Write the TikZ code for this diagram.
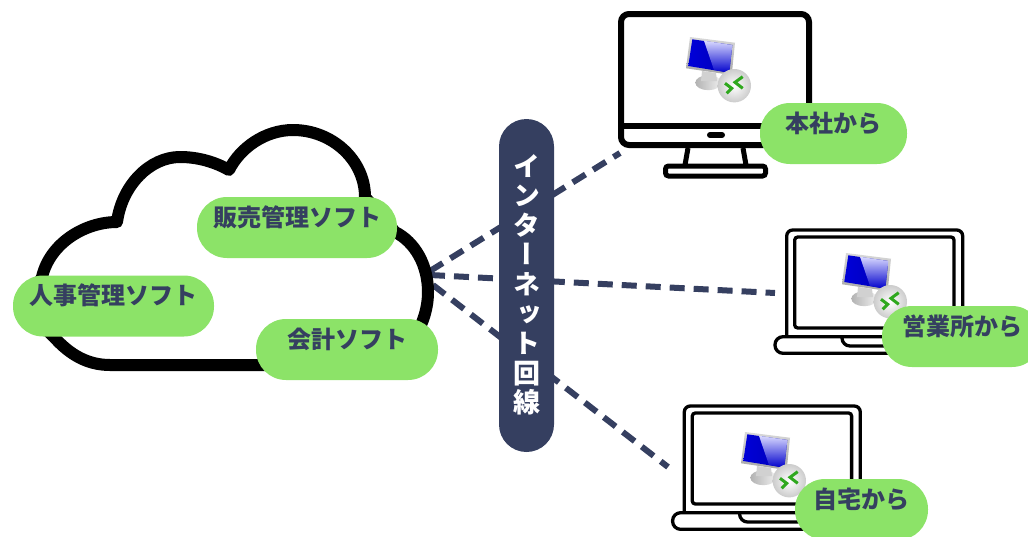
\documentclass[tikz,border=0pt]{standalone}
\usepackage{fontspec}
\newfontfamily\jpfont[RawFeature=+vert]{Noto Sans CJK JP}
\newfontfamily\jplabel{Noto Sans CJK JP}
\definecolor{softgreen}{HTML}{8CE368}
\definecolor{navy}{HTML}{353F60}
\definecolor{arrowgreen}{HTML}{2FA81E}
\tikzset{
	softpill/.style={fill=softgreen, text=navy, rounded corners=30pt, inner xsep=0pt, inner ysep=0pt,
		text height=29pt, text depth=32pt, font=\jplabel\bfseries\fontsize{24}{24}\selectfont},
	wanline/.style={draw=navy, line width=6pt, dash pattern=on 15pt off 9pt},
	rdpicon/.pic={
		\shade[left color=black!30, right color=black!6] (5.3,45.7) arc (180:360:13 and 7.5) arc (0:180:13 and 7.5);
		\fill[black!18] (12,34) -- (26,36) -- (27,44) -- (11,44) -- cycle;
		\shade[top color=black!15, bottom color=black!35] (0,0) -- (45,5.7) -- (41.7,38) -- (-4,31.3) -- cycle;
		\shade[left color=blue!85!black, right color=blue!70!black] (2.3,2.3) -- (42.3,8) -- (39.3,35.7) -- (-1.7,29) -- cycle;
		\shade[top color=blue!15, bottom color=blue!80!black] (14,3.8) -- (42.3,8) -- (39.3,35.7) -- (24,33) -- cycle;
		\shade[inner color=white, outer color=black!20] (44.3,48.7) circle (16.7);
		\draw[arrowgreen, line width=3pt] (35,46.3) -- (41.7,51.3) -- (36.7,56.3);
		\draw[arrowgreen, line width=3pt] (52.7,39.7) -- (45,45.3) -- (52.7,51.3);
	},
	laptop/.pic={
		\draw[line width=3.3pt, rounded corners=6pt] (0,107) -- (0,0) -- (176,0) -- (176,107);
		\draw[line width=3.3pt, rounded corners=3pt] (8,7) rectangle (167.3,98);
		\draw[line width=3.3pt, rounded corners=8pt] (-11.7,106.7) -- (-11.7,123.3) -- (187.7,123.3) -- (187.7,106.7) -- cycle;
		\draw[line width=3.3pt, rounded corners=8pt] (55.3,106.7) -- (55.3,116) -- (121,116) -- (121,106.7);
	},
}
\begin{document}
\begin{tikzpicture}[x=1pt,y=-1pt]
	\clip (0,0) rectangle (1028,536);
	\useasboundingbox (0,0) rectangle (1028,536);
	% connectors
	\coordinate (hubup) at (430,271);
	\coordinate (hubmid) at (430,275);
	\coordinate (hublow) at (433,285);
	\coordinate (desk) at (620,153);
	\coordinate (office) at (775,293);
	\coordinate (home) at (668,467);
	\draw[wanline] (hubup) -- (desk);
	\draw[wanline] (hubmid) -- (office);
	\draw[wanline] (hublow) -- (home);
	% cloud
	\draw[line width=12pt, line join=round] (117,222)
		.. controls (122,185) and (150,157) .. (180,157)
		.. controls (198,157) and (215,162) .. (229,170)
		.. controls (240,148) and (265,130) .. (293,130)
		.. controls (332,130) and (365,160) .. (365,197)
		-- (395,232)
		.. controls (415,242) and (428,265) .. (428,292)
		.. controls (428,330) and (400,365) .. (370,365)
		-- (110,365)
		.. controls (88,365) and (70,355) .. (54,337)
		.. controls (35,320) and (30,300) .. (42,277)
		.. controls (50,243) and (85,222) .. (117,222) -- cycle;
	% bar
	\node[fill=navy, rounded corners=27.5pt, minimum width=55pt, minimum height=333pt, inner sep=0pt,
		text=white, align=center, font=\jpfont\bfseries\fontsize{27}{29.6}\selectfont] (net) at (526.5,285.5)
		{イ\\ン\\タ\\ー\\ネ\\ッ\\ト\\回\\線\\[-25.6pt]~};
	% desktop
	\draw[line width=6pt, rounded corners=8pt] (621,14) rectangle (809,145);
	\draw[line width=6pt] (621,126) -- (809,126);
	\draw[line width=6pt, line cap=round] (710,135) -- (722,135);
	\draw[line width=5pt] (688,148) -- (685,165);
	\draw[line width=5pt] (743,148) -- (746,165);
	\draw[line width=5pt, rounded corners=3pt] (665.5,166) rectangle (765.5,176);
	\pic at (690,37) {rdpicon};
	% laptops
	\pic at (786.7,230) {laptop};
	\pic at (846,253) {rdpicon};
	\pic at (684.3,406) {laptop};
	\pic at (745,432) {rdpicon};
	% labels
	\node[softpill, minimum width=200pt] (sales) at (297,227.5) {販売管理ソフト};
	\node[softpill, minimum width=201pt] (staff) at (113.5,306) {人事管理ソフト};
	\node[softpill, minimum width=182pt] (acct) at (347,349.5) {会計ソフト};
	\node[softpill, minimum width=147pt] (head) at (833.5,133.5) {本社から};
	\node[softpill, minimum width=160pt] (branch) at (962,336.5) {営業所から};
	\node[softpill, minimum width=133pt] (house) at (861.5,509.5) {自宅から};
\end{tikzpicture}
\end{document}
